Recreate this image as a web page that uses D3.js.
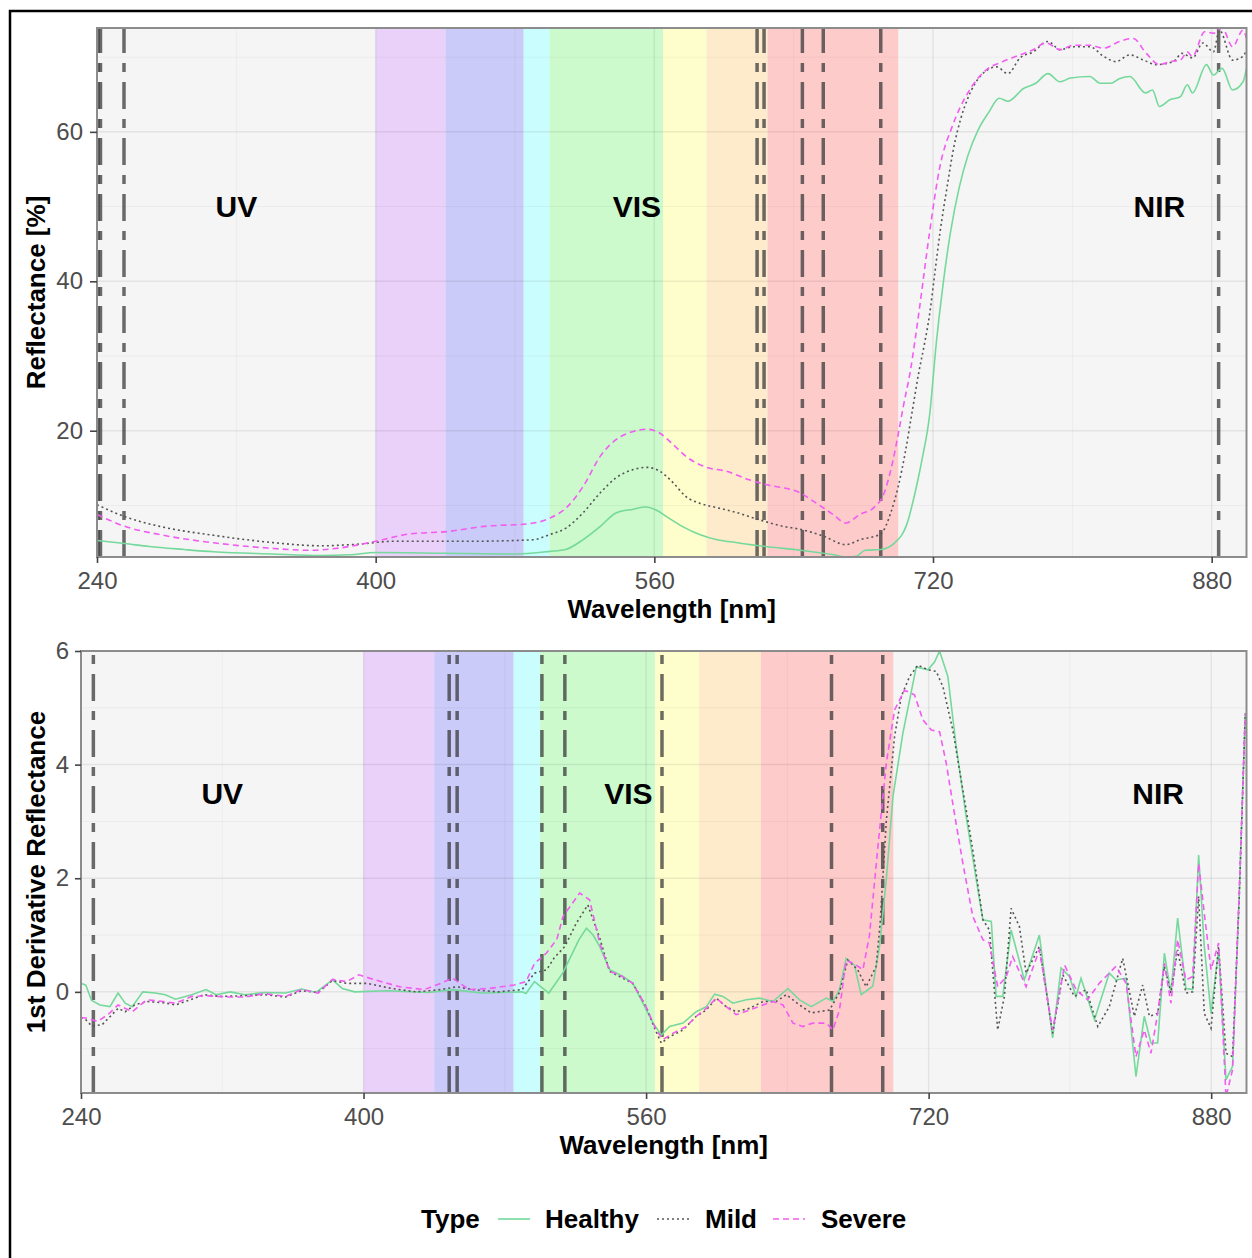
<!DOCTYPE html>
<html><head><meta charset="utf-8">
<script src="https://cdn.jsdelivr.net/npm/d3@7"></script>
<style>body{margin:0;background:#fff}svg{display:block}text{font-family:"Liberation Sans",Arial,Helvetica,sans-serif}</style>
</head><body><svg id="c" width="1252" height="1258"></svg>
<script>
// ---------------- DATA ----------------
const seriesNames = ["Healthy", "Mild", "Severe"];
const xTicks = [240, 400, 560, 720, 880];
const xMinor = [320, 480, 640, 800];
const topYTicks = [20, 40, 60];
const topYMinor = [10, 30, 50, 70];
const botYTicks = [0, 2, 4, 6];
const botYMinor = [-1, 1, 3, 5];
const xDomain = [240, 900];
const topYDomain = [3.1, 73.9];
const botYDomain = [-1.78, 6.0];
const regionLabels = [{t:"UV", x:320}, {t:"VIS", x:550}, {t:"NIR", x:850}];
const topLabelY = 50, botLabelY = 3.5;
const bands = [[400,440],[440,485],[485,500],[500,565],[565,590],[590,625],[625,700]];
const bandColors = ["#e9d1f9","#cbcbf9","#cafdfd","#ccfacc","#fefdcc","#feebcc","#fecbcb"];
const topVLines = [240.6, 242, 255.5, 619, 623, 645, 657, 690, 884];
const botVLines = [247, 448.5, 453, 501, 514, 569, 665, 694];

const topHealthy = [[240,5.3],[256,4.9],[270,4.5],[290,4.1],[307,3.8],[340,3.5],[369,3.3],[385,3.4],[400,3.7],[440,3.6],[480,3.5],[500,3.85],[509,4.1],[519,5.4],[529,7.2],[538,9.0],[548,9.5],[555,9.8],[561,9.4],[567,8.5],[576,7.2],[586,6.1],[596,5.4],[605,5.1],[624,4.5],[644,4.0],[663,3.4],[670,3.1],[676,3.2],[681,4.0],[690,4.1],[698,5.0],[705,7.5],[710,12],[714,16.5],[718,22],[722,32],[726,40],[730,46.5],[735,52.5],[740,56.8],[746,60.3],[752,62.6],[758,64.5],[763,64.1],[772,65.8],[779,66.5],[786,67.8],[793,66.7],[799,67.2],[810,67.4],[816,66.5],[822,66.5],[827,67.1],[833,67.4],[842,65.2],[846,65.6],[850,63.4],[856,64.3],[862,64.7],[866,66.3],[869,65.2],[877,69.0],[881,67.6],[886,68.5],[892,65.6],[898,66.7],[900,68.5]];
const topMild = [[240,10.1],[256,8.5],[276,7.2],[307,6.0],[338,5.1],[369,4.6],[389,4.8],[410,5.2],[451,5.2],[490,5.4],[500,6.1],[509.5,7.0],[519,9.0],[529,11.7],[538,13.7],[548,14.8],[555.5,15.1],[563,14.6],[571,13.0],[578,11.2],[586,10.3],[596,9.7],[605,9.2],[620,8.1],[634,7.2],[644,6.8],[657,5.9],[670,4.75],[678,5.4],[690,6.2],[696,9.2],[700,12.5],[704,17],[708,22.5],[712,28],[715,31.5],[718,35.5],[721,41],[724,46.5],[728,52.5],[732,58],[736,61.8],[740,64.5],[747,67.4],[756.5,68.7],[763,67.8],[770,69.9],[777.5,70.7],[786,72.1],[793,71.0],[800.5,71.4],[810,71.4],[818,70.1],[825,69.4],[833,70.3],[841,69.6],[848,69.0],[858,69.4],[863,70.5],[869,69.9],[875,71.9],[881,70.7],[884.5,73.6],[892,69.6],[898,70.1],[900,71.0]];
const topSevere = [[240,8.8],[256,7.2],[276,6.1],[307,5.0],[338,4.3],[362,4.0],[379,4.3],[400,5.2],[420,6.2],[441,6.5],[462,7.2],[488,7.55],[500,8.3],[509.5,9.7],[519,12.5],[529,16.6],[538,18.8],[548,19.9],[555.5,20.2],[563,19.7],[571,18.1],[578,16.6],[590,15.1],[601,14.6],[615,13.4],[624,12.8],[643.5,11.7],[653,10.3],[662.6,8.8],[670,7.65],[678,8.8],[686,9.7],[692,11.7],[697,16],[700,19.5],[703,23.3],[707,28],[712,36],[718,46.5],[724,55.4],[731,60.7],[741,65.6],[750.6,68.3],[760,69.4],[770,70.3],[777.5,71.0],[785,71.9],[793,71.0],[800.5,71.6],[810,71.6],[818,71.2],[827,72.1],[835,72.5],[842.5,70.5],[850,69.0],[856,69.4],[862,69.6],[866,70.7],[869,70.1],[876,73.4],[881,73.2],[886,73.9],[892,71.4],[898,73.6],[900,72.5]];

const botHealthy = [[240,0.15],[242.7,0.12],[246,-0.15],[250.8,-0.23],[256.4,-0.26],[261,-0.02],[265,-0.2],[269,-0.26],[275,0.0],[282,-0.02],[287.7,-0.05],[293.5,-0.13],[302.7,-0.05],[310.8,0.04],[316.5,-0.05],[324.6,0.0],[332.8,-0.05],[344,-0.01],[355.8,-0.02],[365,0.05],[373,-0.01],[382.4,0.21],[388,0.06],[395,0.0],[413.6,0.02],[436.7,-0.01],[450.5,0.04],[466.7,-0.02],[489.8,0.0],[492,-0.03],[496.8,0.18],[504.9,-0.02],[512.8,0.33],[522,0.92],[526.2,1.12],[530,1.0],[533.7,0.8],[539.4,0.39],[547,0.27],[552.5,0.15],[558.2,-0.2],[564,-0.55],[568.6,-0.76],[573.3,-0.61],[580.9,-0.55],[588.4,-0.35],[594.1,-0.26],[598.8,-0.04],[603.5,-0.08],[609.2,-0.2],[616.7,-0.14],[624.3,-0.11],[631.8,-0.17],[640.3,0.06],[646.9,-0.14],[653.5,-0.26],[662,-0.11],[665.8,-0.17],[669.5,0.04],[673.3,0.59],[678,0.47],[681.8,-0.05],[688.4,0.1],[692.2,0.8],[696,1.97],[699.8,3.44],[705.4,4.55],[713,5.72],[719.6,5.67],[723.4,5.81],[726.2,6.0],[730.9,5.55],[735.6,4.32],[741.3,3.08],[747,1.97],[750.7,1.27],[755.5,1.24],[758.2,-0.08],[762,-0.08],[766.7,1.09],[774.2,0.21],[782.7,1.0],[790.2,-0.81],[795,0.42],[799.7,0.27],[803.5,-0.08],[806.3,0.24],[813.9,-0.49],[822.3,0.33],[826.1,0.21],[831.8,0.24],[837.4,-1.49],[842.1,-0.43],[845.9,-0.9],[849.7,-0.9],[853.5,0.68],[857.2,-0.02],[861,1.3],[865.7,0.06],[869.5,0.04],[872.9,2.41],[876.1,0.8],[879.9,-0.38],[884.2,0.74],[888.4,-1.55],[892.1,-1.31],[895.9,1.68],[899.3,4.9]];
const botMild = [[240,-0.45],[242.7,-0.49],[246,-0.6],[251.9,-0.58],[256,-0.45],[261,-0.29],[265,-0.35],[270.4,-0.23],[277.3,-0.17],[286.6,-0.19],[293.5,-0.23],[302.7,-0.13],[309.6,-0.05],[318.9,-0.08],[330.4,-0.07],[344,-0.05],[355.8,-0.09],[365,0.02],[374.3,-0.01],[382.4,0.2],[390.5,0.15],[402,0.15],[415.9,0.06],[429.8,0.0],[443.6,0.04],[452.8,0.09],[462,0.04],[476,0.0],[489.8,0.04],[496.8,0.33],[503.7,0.39],[508,0.6],[514,0.8],[520.5,1.21],[527,1.53],[533.7,0.95],[539.4,0.36],[545,0.27],[552.5,0.15],[560,-0.26],[564.8,-0.64],[568.6,-0.9],[573.3,-0.79],[580.9,-0.67],[588.4,-0.43],[594.1,-0.32],[599.7,-0.11],[605.4,-0.26],[611,-0.35],[618.6,-0.29],[626.2,-0.17],[633.7,-0.17],[639.4,-0.05],[646.9,-0.23],[653.5,-0.37],[663.9,-0.32],[669.5,-0.01],[674.2,0.56],[679.8,0.39],[684.6,0.09],[690.3,0.45],[692.5,1.2],[696,3.0],[700.7,4.49],[704.5,5.2],[709.2,5.55],[713.9,5.75],[719.6,5.67],[724.3,5.64],[728.1,5.37],[733.7,4.61],[739.4,3.55],[745,2.5],[750.7,1.27],[754.4,1.09],[759.1,-0.67],[762.9,-0.08],[766.7,1.47],[771.4,1.15],[775.2,0.33],[782.7,0.8],[790.2,-0.73],[796,0.3],[802.6,-0.08],[809.2,0.04],[815.8,-0.61],[822.3,-0.26],[829.9,0.59],[836.5,-0.43],[841.2,0.12],[845,-0.43],[849.7,-0.38],[853.5,0.45],[857.2,-0.02],[861,0.74],[865.7,-0.02],[869.5,0.0],[872.9,1.68],[876.1,-0.38],[879.9,-0.64],[884.2,0.8],[888.4,-1.08],[892.1,-1.14],[895.9,1.68],[899.3,4.9]];
const botSevere = [[240,-0.45],[242.7,-0.46],[249.6,-0.52],[256,-0.38],[261,-0.23],[269,-0.35],[277.3,-0.14],[286.6,-0.17],[293.5,-0.2],[302.7,-0.08],[311.9,-0.07],[323.5,-0.09],[332.8,-0.09],[344,-0.03],[355.8,-0.08],[365,0.04],[374.3,-0.02],[382.4,0.22],[390.5,0.18],[397.4,0.3],[406.7,0.21],[420.5,0.09],[434.4,0.04],[443.6,0.15],[450.5,0.24],[459.8,0.04],[471.3,0.06],[485.2,0.12],[492,0.18],[496.8,0.5],[503.5,0.68],[509.4,0.92],[513,1.33],[522.4,1.74],[528,1.62],[533.7,0.86],[539.4,0.36],[545,0.3],[552.5,0.15],[560,-0.26],[565.7,-0.67],[569.5,-0.84],[575.2,-0.73],[582.7,-0.61],[588.4,-0.43],[594.1,-0.29],[599.7,-0.11],[605.4,-0.26],[611,-0.4],[618.6,-0.32],[626.2,-0.23],[631.8,-0.17],[637.5,-0.23],[643.2,-0.55],[648.8,-0.61],[654.4,-0.55],[662,-0.55],[665.8,-0.67],[669.5,-0.32],[673.3,0.56],[679,0.47],[682.8,0.39],[686.5,1.0],[691.3,2.56],[696,4.02],[700.7,4.96],[706.3,5.31],[712,5.23],[716.7,4.79],[721.5,4.61],[726.2,4.58],[730,4.02],[734.6,3.14],[739.4,2.26],[745,1.33],[750.7,0.92],[754.4,0.86],[759.1,0.09],[764,0.27],[767.6,0.62],[775.2,0.09],[782.7,0.74],[790.2,-0.67],[797,0.47],[803.5,0.04],[810,-0.14],[816.6,0.15],[826.1,0.45],[831.8,0.15],[837.4,-1.14],[842.1,-0.67],[845.9,-1.08],[849.7,-0.38],[853.5,0.5],[857.2,-0.2],[861,0.92],[865.7,0.21],[869.5,0.27],[872.9,2.26],[876.1,1.38],[879.9,0.39],[884.2,0.86],[888.4,-1.85],[892.1,-1.37],[895.9,1.79],[899.3,4.9]];

// ---------------- STYLE ----------------
const seriesStyle = {
  Healthy: {color:"#74d99b", dash:null, width:1.6},
  Mild:    {color:"#555555", dash:"2,3", width:1.6},
  Severe:  {color:"#f25cf2", dash:"6,4", width:1.6}
};
const svg = d3.select("#c");
svg.append("rect").attr("x",10).attr("y",11).attr("width",1300).attr("height",1300)
  .attr("fill","none").attr("stroke","#000").attr("stroke-width",2.5);

function panel(cfg){
  const x = d3.scaleLinear().domain(xDomain).range([cfg.left, cfg.right]);
  const y = d3.scaleLinear().domain(cfg.yDomain).range([cfg.bottom, cfg.top]);
  const g = svg.append("g");
  const cid = "clip" + cfg.id;
  svg.append("defs").append("clipPath").attr("id", cid).append("rect")
    .attr("x", cfg.left).attr("y", cfg.top).attr("width", cfg.right-cfg.left).attr("height", cfg.bottom-cfg.top);
  g.append("rect").attr("x",cfg.left).attr("y",cfg.top).attr("width",cfg.right-cfg.left).attr("height",cfg.bottom-cfg.top).attr("fill","#f5f5f5");
  g.selectAll(".band").data(bands).join("rect")
    .attr("x", d=>x(d[0])).attr("width", d=>x(d[1])-x(d[0]))
    .attr("y", cfg.top).attr("height", cfg.bottom-cfg.top)
    .attr("fill", (d,i)=>bandColors[i]);
  const gg = g.append("g").attr("clip-path", `url(#${cid})`);
  gg.selectAll(".gxm").data(xMinor).join("line").attr("x1",d=>x(d)).attr("x2",d=>x(d)).attr("y1",cfg.top).attr("y2",cfg.bottom).attr("stroke","rgba(0,0,0,0.05)").attr("stroke-width",0.8);
  gg.selectAll(".gym").data(cfg.yMinor).join("line").attr("y1",d=>y(d)).attr("y2",d=>y(d)).attr("x1",cfg.left).attr("x2",cfg.right).attr("stroke","rgba(0,0,0,0.05)").attr("stroke-width",0.8);
  gg.selectAll(".gx").data(xTicks).join("line").attr("x1",d=>x(d)).attr("x2",d=>x(d)).attr("y1",cfg.top).attr("y2",cfg.bottom).attr("stroke","rgba(0,0,0,0.07)").attr("stroke-width",1.5);
  gg.selectAll(".gy").data(cfg.yTicks).join("line").attr("y1",d=>y(d)).attr("y2",d=>y(d)).attr("x1",cfg.left).attr("x2",cfg.right).attr("stroke","rgba(0,0,0,0.07)").attr("stroke-width",1.5);
  gg.selectAll(".vl").data(cfg.vlines).join("line")
    .attr("x1",d=>x(d)).attr("x2",d=>x(d)).attr("y1",cfg.bottom).attr("y2",cfg.top)
    .attr("stroke","#3a3a3a").attr("stroke-opacity",0.75).attr("stroke-width",3.5)
    .attr("stroke-dasharray","27,10,9,10");
  const line = d3.line().x(d=>x(d[0])).y(d=>y(d[1])).curve(cfg.curve);
  cfg.series.forEach((s,i)=>{
    const st = seriesStyle[seriesNames[i]];
    gg.append("path").datum(s).attr("d", line).attr("fill","none")
      .attr("stroke", st.color).attr("stroke-width", st.width)
      .attr("stroke-dasharray", st.dash);
  });
  g.selectAll(".rl").data(regionLabels).join("text")
    .attr("x", d=>x(d.x)).attr("y", y(cfg.labelY)).attr("dy","0.36em")
    .attr("text-anchor","middle").attr("font-weight","bold").attr("font-size",30).attr("fill","#000")
    .text(d=>d.t);
  g.append("rect").attr("x",cfg.left).attr("y",cfg.top).attr("width",cfg.right-cfg.left).attr("height",cfg.bottom-cfg.top)
    .attr("fill","none").attr("stroke","#8c8c8c").attr("stroke-width",2);
  const ax = g.append("g").attr("transform",`translate(0,${cfg.bottom})`)
    .call(d3.axisBottom(x).tickValues(xTicks).tickSize(6).tickPadding(9));
  const ay = g.append("g").attr("transform",`translate(${cfg.left},0)`)
    .call(d3.axisLeft(y).tickValues(cfg.yTicks).tickSize(cfg.yTickSize).tickPadding(cfg.yTickPad));
  [ax, ay].forEach(a=>{
    a.select(".domain").remove();
    a.selectAll(".tick line").attr("stroke","#444").attr("stroke-width",1.6);
    a.selectAll(".tick text").attr("font-size",24).attr("fill","#4d4d4d").attr("font-family","Liberation Sans, Arial, sans-serif");
  });
  g.append("text").attr("x",(cfg.left+cfg.right)/2).attr("y",cfg.bottom+61)
    .attr("text-anchor","middle").attr("font-weight","bold").attr("font-size",26).text("Wavelength [nm]");
  g.append("text").attr("transform",`translate(45,${(cfg.top+cfg.bottom)/2}) rotate(-90)`)
    .attr("text-anchor","middle").attr("font-weight","bold").attr("font-size",26).text(cfg.yTitle);
}

panel({id:"t", left:97, right:1246.5, top:28, bottom:557, yDomain:topYDomain, yTicks:topYTicks, yMinor:topYMinor,
  vlines:topVLines, series:[topHealthy, topMild, topSevere], curve:d3.curveMonotoneX, labelY:topLabelY,
  yTitle:"Reflectance [%]", yTickSize:7, yTickPad:7});
panel({id:"b", left:81, right:1246.5, top:651, bottom:1093, yDomain:botYDomain, yTicks:botYTicks, yMinor:botYMinor,
  vlines:botVLines, series:[botHealthy, botMild, botSevere], curve:d3.curveLinear, labelY:botLabelY,
  yTitle:"1st Derivative Reflectance", yTickSize:6, yTickPad:6});

const lg = svg.append("g").attr("transform","translate(0,1219)");
lg.append("text").attr("x",421).attr("dy","0.36em").attr("font-weight","bold").attr("font-size",26).text("Type");
const keyX = [498, 657, 773], labX = [545, 705, 821];
seriesNames.forEach((n,i)=>{
  const st = seriesStyle[n];
  lg.append("line").attr("x1",keyX[i]).attr("x2",keyX[i]+32).attr("y1",0).attr("y2",0)
    .attr("stroke",st.color).attr("stroke-width",st.width).attr("stroke-dasharray",st.dash);
  lg.append("text").attr("x",labX[i]).attr("dy","0.36em").attr("font-weight","bold").attr("font-size",26).text(n);
});
</script></body></html>
